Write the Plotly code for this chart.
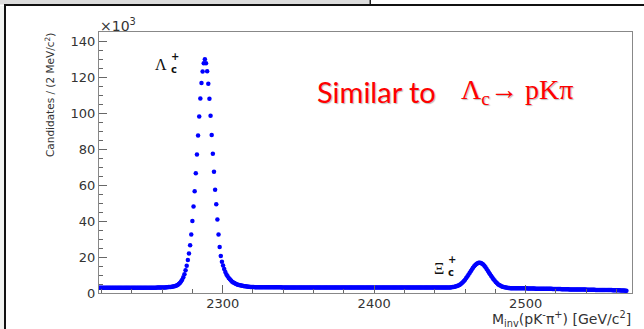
import plotly.graph_objects as go

# ---------------------------------------------------------------------------
# pK-pi+ invariant-mass spectrum, candidates per bin in units of 10^3
# ---------------------------------------------------------------------------
MASS_START = 2218.5   # centre of first bin [MeV/c^2]
MASS_STEP = 0.75      # bin spacing [MeV/c^2]

bkg_left = [
    2.9, 2.9, 2.9, 2.9, 2.9, 2.9, 2.9, 2.9, 2.9, 2.9,
    2.9, 2.9, 2.9, 2.9, 2.9, 2.9, 2.9, 2.9, 2.9, 2.9,
    2.9, 2.9, 2.9, 2.9, 2.9, 2.9, 2.9, 2.9, 2.9, 2.9,
    2.9, 2.9, 2.9, 2.9, 2.9, 2.9, 2.9, 2.9, 2.9, 2.9,
    2.9, 2.9, 2.9, 2.9, 2.9, 2.9, 2.9, 2.9, 2.9, 2.9,
]

lambda_c_peak = [
    2.9, 3.0, 3.0, 3.0, 3.0, 3.1, 3.1, 3.1, 3.1, 3.2,
    3.2, 3.3, 3.3, 3.4, 3.5, 3.6, 3.7, 3.9, 4.1, 4.5,
    5.0, 5.6, 6.4, 7.4, 8.7, 10.4, 12.6, 15.2, 18.3, 22.0,
    26.5, 32.5, 40.0, 48.0, 56.5, 66.5, 77.0, 87.5, 98.0, 108.0,
    116.7, 123.0, 127.6, 129.8,
    127.6, 123.2, 116.3, 107.9, 98.5, 87.8, 77.4, 67.4, 57.4, 49.3,
    40.9, 32.5, 25.5, 20.6, 17.4, 15.3, 13.3, 11.6, 10.3, 9.3,
    8.4, 7.6, 6.9, 6.3, 5.9, 5.5, 5.1, 4.8, 4.6, 4.4,
    4.25, 4.1, 4.0, 3.9, 3.8, 3.7, 3.6, 3.5, 3.5, 3.4,
    3.4, 3.3, 3.3, 3.2,
]

bkg_mid = [
    3.2, 3.2, 3.2, 3.2, 3.2, 3.2, 3.2, 3.2, 3.2, 3.2,
    3.2, 3.2, 3.2, 3.2, 3.2, 3.2, 3.2, 3.2, 3.2, 3.2,
    3.2, 3.2, 3.2,
    3.1, 3.1, 3.1, 3.1, 3.1, 3.1, 3.1, 3.1, 3.1, 3.1,
    3.1, 3.1, 3.1, 3.1, 3.1, 3.1, 3.1, 3.1, 3.1, 3.1,
    3.1, 3.1, 3.1, 3.1, 3.1, 3.1, 3.1, 3.1, 3.1, 3.1,
    3.1, 3.1, 3.1, 3.1, 3.1, 3.1, 3.1, 3.1, 3.1, 3.1,
    3.1, 3.1, 3.1, 3.1, 3.1, 3.1, 3.1, 3.1, 3.1, 3.1,
    3.1, 3.1, 3.1, 3.1, 3.1, 3.1, 3.1, 3.1, 3.1, 3.1,
    3.1, 3.1, 3.1, 3.1, 3.1, 3.1, 3.1, 3.1, 3.1, 3.1,
    3.1, 3.1, 3.1, 3.1, 3.1, 3.1, 3.1, 3.1, 3.1, 3.1,
    3.0, 3.0, 3.0, 3.0, 3.0, 3.0, 3.0, 3.0, 3.0, 3.0,
    3.0, 3.0, 3.0, 3.0, 3.0, 3.0, 3.0, 3.0, 3.0, 3.0,
    3.0, 3.0, 3.0, 3.0, 3.0, 3.0, 3.0, 3.0, 3.0, 3.0,
    3.0, 3.0, 3.0, 3.0, 3.0, 3.0, 3.0, 3.0, 3.0, 3.0,
    3.0, 3.0, 3.0, 3.0, 3.0, 3.0, 3.0, 3.0, 3.0, 3.0,
    3.0, 3.0, 3.0, 3.0, 3.0, 3.0, 3.0, 3.0, 3.0, 3.0,
    3.0, 3.0, 3.0, 3.0,
]

xi_c_peak = [
    3.0, 3.0, 3.1, 3.1, 3.1, 3.2, 3.3, 3.4, 3.5, 3.7,
    3.9, 4.2, 4.5, 4.9, 5.4, 6.0, 6.7, 7.4, 8.3, 9.2,
    10.1, 11.1, 12.1, 13.1, 14.0, 14.8, 15.5, 16.1, 16.5, 16.8,
    16.8, 16.6, 16.3, 15.8, 15.1, 14.3, 13.4, 12.4, 11.4, 10.4,
    9.5, 8.6, 7.7, 6.9, 6.1, 5.5, 4.9, 4.5, 4.1, 3.8,
    3.5, 3.3, 3.2, 3.0, 2.9, 2.8, 2.8,
]

bkg_right = [
    2.7, 2.7, 2.7, 2.7, 2.7, 2.7, 2.7,
    2.6, 2.6, 2.6, 2.6, 2.6, 2.6, 2.6, 2.6,
    2.5, 2.5, 2.5, 2.5, 2.5, 2.5, 2.5,
    2.4, 2.4, 2.4, 2.4, 2.4, 2.4, 2.4, 2.4,
    2.3, 2.3, 2.3, 2.3, 2.3, 2.3, 2.3,
    2.2, 2.2, 2.2, 2.2, 2.2, 2.2, 2.2, 2.2,
    2.1, 2.1, 2.1, 2.1, 2.1, 2.1, 2.1,
    2.0, 2.0, 2.0, 2.0, 2.0, 2.0, 2.0, 2.0,
    1.9, 1.9, 1.9, 1.9, 1.9, 1.9, 1.9,
    1.8, 1.8, 1.8, 1.8, 1.8, 1.8, 1.8, 1.8,
    1.7, 1.7, 1.7, 1.7, 1.7, 1.7, 1.7,
    1.6, 1.6, 1.6, 1.6, 1.6, 1.6, 1.6, 1.6,
    1.5, 1.5, 1.5, 1.5, 1.5, 1.5, 1.5,
    1.4, 1.4, 1.4, 1.4, 1.3, 1.2,
]

counts = bkg_left + lambda_c_peak + bkg_mid + xi_c_peak + bkg_right
mass = [MASS_START + MASS_STEP * i for i in range(len(counts))]

MASS_RANGE = [2218.35, 2570.2]
COUNT_RANGE = [0, 145]
MASS_TICKS = [2300, 2400, 2500]

# ---------------------------------------------------------------------------
W, H = 644, 329
FL, FR, FT, FB = 99, 632, 32, 293   # frame edges in pixels


def px(x, y):
    """pixel position -> paper coordinates"""
    return (x - FL) / (FR - FL), (FB - y) / (FB - FT)


fig = go.Figure()
fig.add_trace(go.Scatter(
    x=mass, y=counts, mode="markers",
    marker=dict(color="#0000ff", size=4.5, line=dict(width=0)),
    hoverinfo="skip",
))

AX_FONT = dict(family="DejaVu Sans", size=13, color="#333333")
fig.update_xaxes(
    range=MASS_RANGE, tickvals=MASS_TICKS, ticks="inside", ticklen=8,
    tickcolor="#666666", tickwidth=1, tickfont=AX_FONT,
    ticklabelstandoff=-2,
    showline=True, linecolor="#888888", linewidth=1, mirror=True,
    showgrid=False, zeroline=False,
    minor=dict(tick0=2300, dtick=20, ticks="inside", ticklen=4,
               tickcolor="#666666", showgrid=False),
)
fig.update_yaxes(
    range=COUNT_RANGE, tick0=0, dtick=20, ticks="inside", ticklen=8,
    tickcolor="#666666", tickwidth=1, tickfont=AX_FONT,
    showline=True, linecolor="#888888", linewidth=1, mirror=True,
    showgrid=False, zeroline=False,
    minor=dict(tick0=0, dtick=5, ticks="inside", ticklen=4,
               tickcolor="#666666", showgrid=False),
)


def note(text, x, y, size=12, family="DejaVu Sans", color="#222222",
         xanchor="left", yanchor="middle", angle=0, **kw):
    ax, ay = px(x, y)
    fig.add_annotation(text=text, x=ax, y=ay, xref="paper", yref="paper",
                       showarrow=False, xanchor=xanchor, yanchor=yanchor,
                       textangle=angle, borderpad=0, align="left",
                       font=dict(family=family, size=size, color=color, **kw))


# axis titles and exponent label
note("×10<sup>3</sup>", 99, 25, size=14, color="#333333")
note("Candidates / (2 MeV/c<sup>2</sup>)", 49, 32, size=10.5,
     color="#333333", xanchor="center", yanchor="top", angle=-90)
note("M<sub>inv</sub>(pK<sup>-</sup>π<sup>+</sup>) [GeV/c<sup>2</sup>]", 632, 319,
     size=14, color="#333333", xanchor="right")

# peak labels: particle symbol with stacked charge / flavour indices
note("Λ", 154, 64, size=16, family="Liberation Serif", color="#111111")
note("<b>+</b><br><b>c</b>", 170, 63, size=10, color="#111111")
note("Ξ", 433, 268, size=16, family="Liberation Serif", color="#111111")
note("<b>+</b><br><b>c</b>", 447, 266, size=10, color="#111111")

# red comparison remark
note("Similar to", 316, 91, size=29, family="Lato", color="#ff0000",
     shadow="1px 1px 1px #bbbbbb")
note("Λ<sub>c</sub>→ pKπ", 460, 91, size=28, family="Liberation Serif",
     color="#ff0000", shadow="1px 1px 1px #bbbbbb")

# slide furniture around the plot
shapes = []
def rect(x0, y0, x1, y1, **kw):
    a0, b0 = px(x0, y0)
    a1, b1 = px(x1, y1)
    shapes.append(dict(type="rect", xref="paper", yref="paper",
                       x0=a0, y0=b0, x1=a1, y1=b1, layer="above", **kw))

rect(0, 0, 370, 4.5, fillcolor="#dcdcdc", line=dict(width=0))
rect(369.5, 0, 371, 5, fillcolor="#222222", line=dict(width=0))
rect(4, 4, 644, 6, fillcolor="#111111", line=dict(width=0))
rect(4, 4, 6, 329, fillcolor="#111111", line=dict(width=0))
rect(0, 6, 4, 329, fillcolor="#f1f3f1", line=dict(width=0))

fig.update_layout(
    width=W, height=H, shapes=shapes,
    margin=dict(l=FL, r=W - FR, t=FT, b=H - FB, pad=0),
    paper_bgcolor="white", plot_bgcolor="white", showlegend=False,
)

fig.write_html("out.html")
